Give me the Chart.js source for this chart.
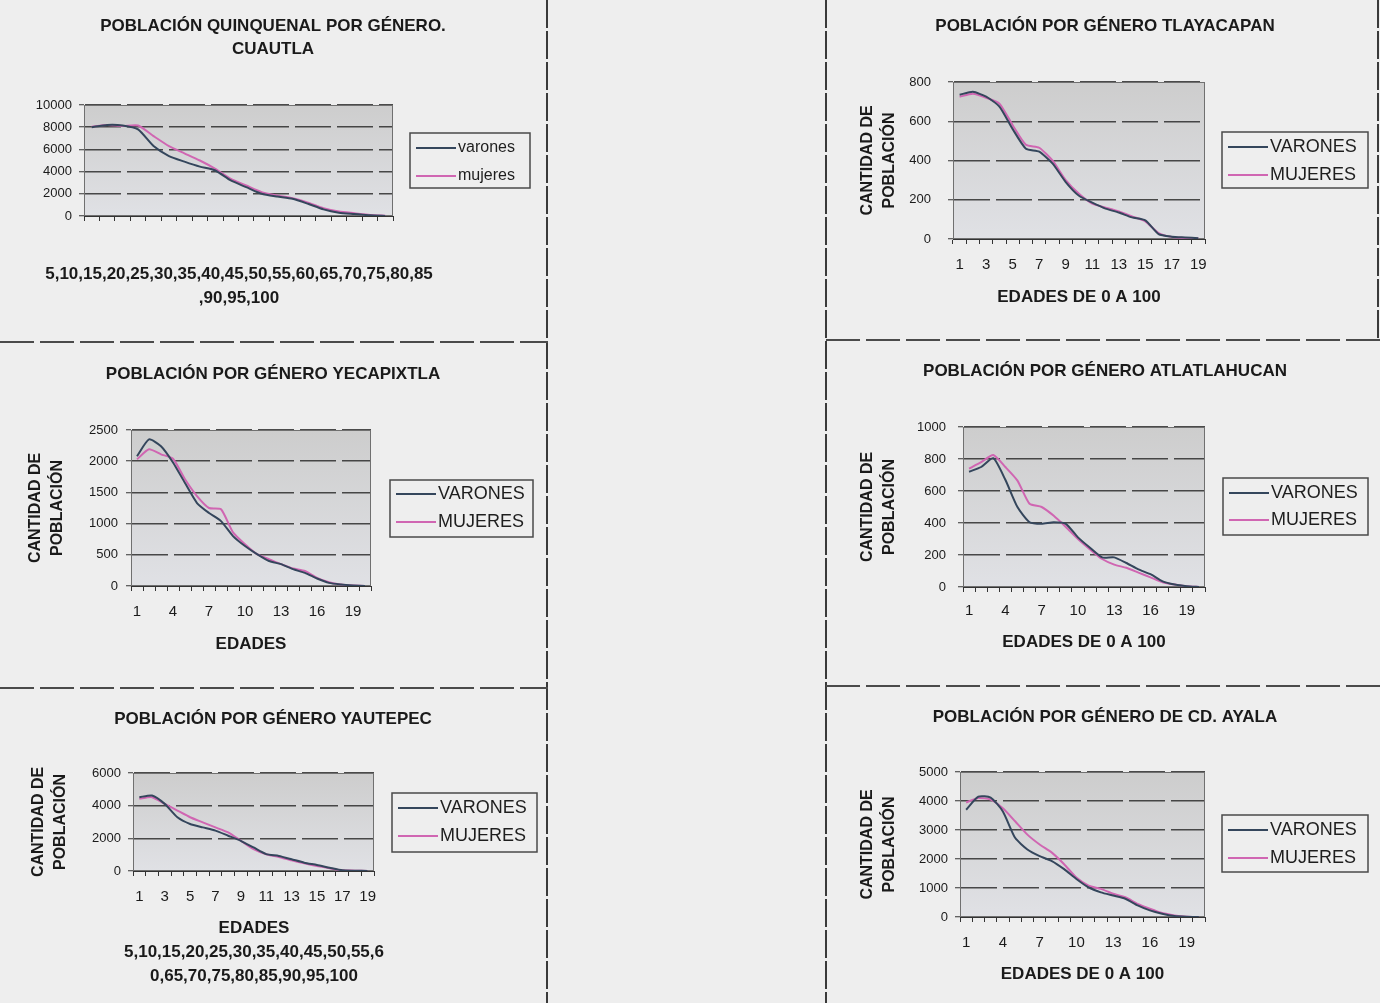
<!DOCTYPE html>
<html lang="es">
<head>
    <meta charset="UTF-8">
    <title>Población por género - Morelos</title>
    <script src="https://cdn.jsdelivr.net/npm/chart.js"></script>
    <style>
        body { margin: 0; background: #eeeeee; }
        #page { position: relative; width: 1380px; height: 1003px; overflow: hidden; background: #eeeeee; }
        .panel { position: absolute; }
        .vline { position: absolute; width: 2px; background: repeating-linear-gradient(to bottom, #3a3a3a 0 28px, rgba(0,0,0,0) 28px 31px); }
        .hline { position: absolute; height: 2px; background: repeating-linear-gradient(to right, #4a4a4a 0 34px, rgba(0,0,0,0) 34px 40px); }
    </style>
</head>
<body>
<div id="page">
    <div class="panel" style="left:0;top:0"><canvas id="cuautla" width="546" height="340"></canvas></div>
    <div class="panel" style="left:830px;top:0"><canvas id="tlayacapan" width="550" height="338"></canvas></div>
    <div class="panel" style="left:0;top:344px"><canvas id="yecapixtla" width="546" height="342"></canvas></div>
    <div class="panel" style="left:830px;top:342px"><canvas id="atlatlahucan" width="550" height="341"></canvas></div>
    <div class="panel" style="left:0;top:690px"><canvas id="yautepec" width="546" height="313"></canvas></div>
    <div class="panel" style="left:830px;top:688px"><canvas id="ayala" width="550" height="315"></canvas></div>

    <!-- separadores de la hoja escaneada -->
    <div class="vline" style="left:546px;top:0;height:1003px"></div>
    <div class="vline" style="left:825px;top:0;height:1003px"></div>
    <div class="vline" style="left:1377px;top:0;height:340px"></div>
    <div class="hline" style="left:0;top:341px;width:548px"></div>
    <div class="hline" style="left:0;top:687px;width:548px"></div>
    <div class="hline" style="left:826px;top:339px;width:554px"></div>
    <div class="hline" style="left:826px;top:685px;width:554px"></div>
</div>

<script>
    // categorías (grupos quinquenales)
    var quinquenios = ['5', '10', '15', '20', '25', '30', '35', '40', '45', '50',
                       '55', '60', '65', '70', '75', '80', '85', '90', '95', '100'];
    var edades19 = ['1', '2', '3', '4', '5', '6', '7', '8', '9', '10',
                    '11', '12', '13', '14', '15', '16', '17', '18', '19'];
    var edades20 = ['1', '2', '3', '4', '5', '6', '7', '8', '9', '10',
                    '11', '12', '13', '14', '15', '16', '17', '18', '19', '20'];

    // valores
    var cuautlaVarones = [8000, 8200, 8150, 7800, 6300, 5400, 4900, 4450, 4100, 3200, 2600, 2000, 1750, 1550, 1100, 600, 300, 180, 60, 0];
    var cuautlaMujeres = [8050, 8200, 8100, 8150, 7200, 6300, 5650, 5000, 4250, 3350, 2750, 2150, 1850, 1600, 1200, 700, 400, 250, 100, 30];

    var tlayacapanVarones = [735, 750, 725, 675, 560, 460, 445, 385, 290, 220, 185, 155, 135, 110, 95, 25, 12, 8, 4];
    var tlayacapanMujeres = [725, 740, 720, 690, 580, 480, 465, 400, 300, 230, 180, 160, 140, 115, 90, 30, 10, 5, 3];

    var yecapixtlaVarones = [2080, 2350, 2240, 1980, 1650, 1330, 1170, 1040, 800, 640, 510, 400, 350, 270, 210, 120, 50, 25, 10, 0];
    var yecapixtlaMujeres = [2030, 2190, 2110, 2040, 1710, 1440, 1250, 1230, 860, 670, 510, 430, 350, 280, 240, 130, 60, 25, 10, 0];

    var atlatlahucanVarones = [720, 750, 805, 670, 500, 405, 395, 405, 395, 310, 245, 185, 185, 150, 110, 80, 35, 15, 5, 0];
    var atlatlahucanMujeres = [740, 780, 825, 750, 665, 520, 500, 445, 375, 300, 235, 175, 140, 120, 90, 60, 30, 15, 5, 0];

    var yautepecVarones = [4520, 4620, 4110, 3290, 2880, 2670, 2470, 2160, 1850, 1440, 1030, 920, 720, 510, 370, 200, 40, 20, 0];
    var yautepecMujeres = [4420, 4520, 4110, 3700, 3290, 2980, 2670, 2360, 1850, 1340, 1030, 860, 650, 470, 310, 170, 40, 20, 0];

    var ayalaVarones = [3700, 4150, 4120, 3640, 2730, 2330, 2100, 1930, 1650, 1310, 1020, 850, 740, 630, 400, 230, 115, 35, 10, 0];
    var ayalaMujeres = [3950, 4100, 4050, 3750, 3300, 2840, 2500, 2220, 1820, 1360, 1080, 970, 800, 680, 455, 285, 135, 55, 10, 0];

    var FONT = '"Liberation Sans", Arial, sans-serif';
    var VAR_COLOR = '#34465c';
    var MUJ_COLOR = '#d066b2';

    // fondo gris del área de trazado y su borde
    var plotBg = {
        id: 'plotBg',
        beforeDraw: function (chart) {
            var a = chart.chartArea, ctx = chart.ctx;
            var g = ctx.createLinearGradient(0, a.top, 0, a.bottom);
            g.addColorStop(0, '#cdcdcd');
            g.addColorStop(1, '#e0e1e5');
            ctx.save();
            ctx.fillStyle = g;
            ctx.fillRect(a.left, a.top, a.width, a.height);
            ctx.restore();
        },
        beforeDatasetsDraw: function (chart) {
            var a = chart.chartArea, ctx = chart.ctx;
            ctx.save();
            ctx.strokeStyle = '#707070';
            ctx.lineWidth = 1;
            ctx.strokeRect(a.left + 0.5, a.top + 0.5, a.width - 1, a.height - 1);
            ctx.restore();
        }
    };

    // leyenda con recuadro, como en Excel
    var boxLegend = {
        id: 'boxLegend',
        afterDraw: function (chart, args, opts) {
            var ctx = chart.ctx, b = opts.box;
            ctx.save();
            ctx.strokeStyle = '#4a4a4a';
            ctx.lineWidth = 1.5;
            ctx.strokeRect(b.x, b.y, b.w, b.h);
            ctx.font = opts.fontSize + 'px ' + FONT;
            ctx.textBaseline = 'middle';
            chart.data.datasets.forEach(function (ds, i) {
                var y = opts.rows[i];
                ctx.strokeStyle = ds.borderColor;
                ctx.lineWidth = 2;
                ctx.beginPath();
                ctx.moveTo(b.x + 6, y);
                ctx.lineTo(b.x + 6 + opts.lineLen, y);
                ctx.stroke();
                ctx.fillStyle = '#1e1e1e';
                ctx.fillText(ds.label, b.x + 8 + opts.lineLen, y);
            });
            ctx.restore();
        }
    };

    // rótulo del eje x más ancho que el propio eje; la escala lo comprimiría
    var wideCaption = {
        id: 'wideCaption',
        afterDraw: function (chart, args, opts) {
            if (!opts.lines) return;
            var ctx = chart.ctx;
            ctx.save();
            ctx.font = 'bold 17px ' + FONT;
            ctx.fillStyle = '#1a1a1a';
            ctx.textAlign = 'center';
            ctx.textBaseline = 'middle';
            opts.lines.forEach(function (t, i) {
                ctx.fillText(t, opts.x, opts.y + i * opts.lh);
            });
            ctx.restore();
        }
    };

    function makeChart(c) {
        var p = c.panel, plot = c.plot;
        var titleLh = c.titleLh || 22;
        var titleTop = c.titleY - p.y - titleLh / 2;
        var titleBottom = plot.t - p.y - titleTop - c.title.length * titleLh;
        var yWidth = plot.l - p.x;
        var rightWidth = p.x + p.w - plot.r;
        var xHeight = p.y + p.h - plot.b;
        var yTitleLh = 22;
        var xTitleLh = 24;

        return new Chart(document.getElementById(c.id), {
            type: 'line',
            data: {
                labels: c.labels,
                datasets: [
                    { label: c.names[0], data: c.varones, borderColor: VAR_COLOR, borderWidth: 2 },
                    { label: c.names[1], data: c.mujeres, borderColor: MUJ_COLOR, borderWidth: 2 }
                ]
            },
            options: {
                responsive: false,
                animation: false,
                layout: { padding: 0 },
                elements: { point: { radius: 0 }, line: { tension: 0.2 } },
                plugins: {
                    legend: { display: false },
                    tooltip: { enabled: false },
                    title: {
                        display: true,
                        text: c.title,
                        color: '#1a1a1a',
                        font: { family: FONT, size: 17, weight: 'bold', lineHeight: titleLh + 'px' },
                        padding: { top: titleTop, bottom: titleBottom }
                    },
                    boxLegend: {
                        box: { x: c.legend.x - p.x, y: c.legend.y - p.y, w: c.legend.w, h: c.legend.h },
                        rows: c.legend.rows.map(function (r) { return r - p.y; }),
                        fontSize: c.legend.fontSize,
                        lineLen: c.legend.lineLen || 40
                    },
                    wideCaption: c.caption ? {
                        lines: c.caption.lines, x: c.caption.x - p.x, y: c.caption.y - p.y, lh: c.caption.lh
                    } : {}
                },
                scales: {
                    x: {
                        type: 'category',
                        offset: true,
                        grid: { display: true, drawOnChartArea: false, offset: true, tickLength: 5, tickColor: '#333' },
                        border: { display: true, color: '#333', width: 1 },
                        ticks: {
                            display: c.every > 0,
                            autoSkip: false,
                            maxRotation: 0,
                            padding: c.xLabelY - plot.b - 5 - 9,
                            color: '#1a1a1a',
                            font: { family: FONT, size: 15 },
                            callback: function (v, i) { return i % c.every === 0 ? this.getLabelForValue(v) : ''; }
                        },
                        title: {
                            display: !!c.xTitle,
                            text: c.xTitle || '',
                            color: '#1a1a1a',
                            font: { family: FONT, size: 17, weight: 'bold', lineHeight: xTitleLh + 'px' },
                            padding: { top: 0, bottom: p.y + p.h - (c.xTitleY || 0) - xTitleLh / 2 }
                        },
                        afterFit: function (s) { s.height = xHeight; }
                    },
                    y: {
                        type: 'linear',
                        min: 0,
                        max: c.max,
                        grid: { color: 'rgba(45,45,45,0.85)', lineWidth: 1.5, tickLength: 5, tickColor: '#333', tickWidth: 1 },
                        border: { display: true, color: '#333', width: 1, dash: [36, 6] },
                        ticks: {
                            stepSize: c.step,
                            padding: c.yGap - 5,
                            color: '#1a1a1a',
                            font: { family: FONT, size: 13 },
                            callback: function (v) { return v; }
                        },
                        title: {
                            display: !!c.yTitle,
                            text: c.yTitle || '',
                            color: '#1a1a1a',
                            font: { family: FONT, size: 16, weight: 'bold', lineHeight: yTitleLh + 'px' },
                            padding: { top: (c.yTitleX || 0) - p.x - yTitleLh / 2, bottom: 0 }
                        },
                        afterFit: function (s) { s.width = yWidth; }
                    },
                    // eje vacío a la derecha: deja el hueco donde va la leyenda
                    yPad: {
                        type: 'linear',
                        axis: 'y',
                        position: 'right',
                        display: true,
                        grid: { display: false },
                        border: { display: false },
                        ticks: { display: false },
                        afterFit: function (s) { s.width = rightWidth; }
                    }
                }
            },
            plugins: [plotBg, boxLegend, wideCaption]
        });
    }

    var yLabel = ['CANTIDAD DE', 'POBLACIÓN'];

    makeChart({
        id: 'cuautla', panel: { x: 0, y: 0, w: 546, h: 340 }, plot: { l: 84, t: 105, r: 393, b: 216 },
        title: ['POBLACIÓN QUINQUENAL POR GÉNERO.', 'CUAUTLA'], titleY: 26, titleLh: 23,
        labels: quinquenios, varones: cuautlaVarones, mujeres: cuautlaMujeres, names: ['varones', 'mujeres'],
        max: 10000, step: 2000, yGap: 12, every: 0, xLabelY: 240,
        caption: { lines: ['5,10,15,20,25,30,35,40,45,50,55,60,65,70,75,80,85', ',90,95,100'], x: 239, y: 274, lh: 24 },
        legend: { x: 410, y: 133, w: 120, h: 55, rows: [148, 176], fontSize: 16, lineLen: 40 }
    });

    makeChart({
        id: 'tlayacapan', panel: { x: 830, y: 0, w: 550, h: 338 }, plot: { l: 953, t: 82, r: 1205, b: 239 },
        title: ['POBLACIÓN POR GÉNERO TLAYACAPAN'], titleY: 26,
        yTitle: yLabel, yTitleX: 868,
        labels: edades19, varones: tlayacapanVarones, mujeres: tlayacapanMujeres, names: ['VARONES', 'MUJERES'],
        max: 800, step: 200, yGap: 22, every: 2, xLabelY: 265,
        xTitle: 'EDADES DE 0 A 100', xTitleY: 297,
        legend: { x: 1222, y: 132, w: 146, h: 56, rows: [147, 175], fontSize: 18 }
    });

    makeChart({
        id: 'yecapixtla', panel: { x: 0, y: 344, w: 546, h: 342 }, plot: { l: 131, t: 430, r: 371, b: 586 },
        title: ['POBLACIÓN POR GÉNERO YECAPIXTLA'], titleY: 374,
        yTitle: yLabel, yTitleX: 36,
        labels: edades20, varones: yecapixtlaVarones, mujeres: yecapixtlaMujeres, names: ['VARONES', 'MUJERES'],
        max: 2500, step: 500, yGap: 13, every: 3, xLabelY: 612,
        xTitle: 'EDADES', xTitleY: 644,
        legend: { x: 390, y: 480, w: 143, h: 57, rows: [494, 522], fontSize: 18 }
    });

    makeChart({
        id: 'atlatlahucan', panel: { x: 830, y: 342, w: 550, h: 341 }, plot: { l: 963, t: 427, r: 1205, b: 587 },
        title: ['POBLACIÓN POR GÉNERO ATLATLAHUCAN'], titleY: 371,
        yTitle: yLabel, yTitleX: 868,
        labels: edades20, varones: atlatlahucanVarones, mujeres: atlatlahucanMujeres, names: ['VARONES', 'MUJERES'],
        max: 1000, step: 200, yGap: 17, every: 3, xLabelY: 611,
        xTitle: 'EDADES DE 0 A 100', xTitleY: 642,
        legend: { x: 1223, y: 478, w: 145, h: 57, rows: [493, 520], fontSize: 18 }
    });

    makeChart({
        id: 'yautepec', panel: { x: 0, y: 690, w: 546, h: 313 }, plot: { l: 133, t: 773, r: 374, b: 871 },
        title: ['POBLACIÓN POR GÉNERO YAUTEPEC'], titleY: 719,
        yTitle: yLabel, yTitleX: 39,
        labels: edades19, varones: yautepecVarones, mujeres: yautepecMujeres, names: ['VARONES', 'MUJERES'],
        max: 6000, step: 2000, yGap: 12, every: 2, xLabelY: 897,
        caption: { lines: ['EDADES', '5,10,15,20,25,30,35,40,45,50,55,6', '0,65,70,75,80,85,90,95,100'], x: 254, y: 928, lh: 24 },
        legend: { x: 392, y: 793, w: 145, h: 59, rows: [808, 836], fontSize: 18 }
    });

    makeChart({
        id: 'ayala', panel: { x: 830, y: 688, w: 550, h: 315 }, plot: { l: 960, t: 772, r: 1205, b: 917 },
        title: ['POBLACIÓN POR GÉNERO DE CD. AYALA'], titleY: 717,
        yTitle: yLabel, yTitleX: 868,
        labels: edades20, varones: ayalaVarones, mujeres: ayalaMujeres, names: ['VARONES', 'MUJERES'],
        max: 5000, step: 1000, yGap: 12, every: 3, xLabelY: 943,
        xTitle: 'EDADES DE 0 A 100', xTitleY: 974,
        legend: { x: 1222, y: 815, w: 146, h: 57, rows: [830, 858], fontSize: 18 }
    });
</script>
</body>
</html>
